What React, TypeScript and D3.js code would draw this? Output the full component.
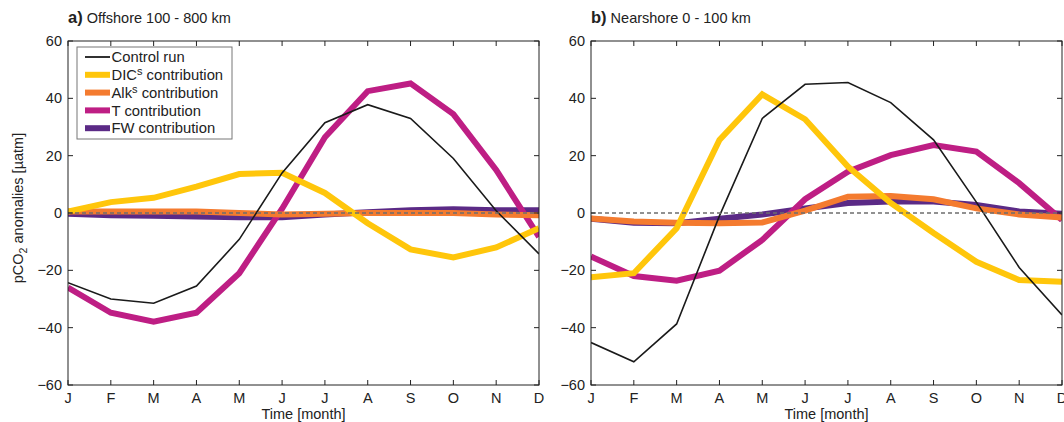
import React from "react";
import * as d3 from "d3";

const months = ["J", "F", "M", "A", "M", "J", "J", "A", "S", "O", "N", "D"];
const yTicks = [-60, -40, -20, 0, 20, 40, 60];

// Panel a) Offshore 100 - 800 km
const aControl = [-24.3, -30, -31.5, -25.5, -9.2, 14, 31.5, 37.8, 33, 19, 0.8, -14.3];
const aDIC = [0.5, 3.8, 5.3, 9.2, 13.6, 14, 7, -3.6, -12.7, -15.5, -12, -5.3];
const aAlk = [0.5, 0.5, 0.5, 0.5, 0, -0.5, -0.3, 0, 0, 0, -0.5, -0.8];
const aT = [-26, -34.8, -37.9, -34.8, -21, 1.5, 26.4, 42.5, 45.2, 34.5, 15, -8.3];
const aFW = [-0.3, -0.8, -1, -1.2, -1.5, -1.5, -0.5, 0.3, 1, 1.3, 1, 1];

// Panel b) Nearshore 0 - 100 km
const bControl = [-45.2, -51.9, -38.7, -1, 33, 44.9, 45.5, 38.5, 25.5, 3.8, -19, -35.6];
const bDIC = [-22.4, -21, -5.3, 25.5, 41.4, 32.7, 16.2, 3.5, -7, -17, -23.4, -24];
const bAlk = [-1.9, -3, -3.4, -3.6, -3.3, 0.8, 5.7, 5.9, 4.8, 1.6, -0.5, -1.6];
const bT = [-15.2, -22, -23.6, -20.1, -9.4, 4.8, 14.4, 20.2, 23.7, 21.4, 10.4, -2.4];
const bFW = [-2, -3.4, -3.6, -2, -0.5, 1.6, 3.5, 4, 4, 2.8, 0.5, -0.3];

const colors = {
  control: "#1a1a1a",
  dic: "#FFC60B",
  alk: "#F47B2F",
  t: "#BE1E84",
  fw: "#5B2A86",
};

const FONT = "'Liberation Sans', Arial, Helvetica, sans-serif";
const FS = 14.5;

type PanelProps = {
  left: number;
  label: string;
  title: string;
  control: number[];
  dic: number[];
  alk: number[];
  t: number[];
  fw: number[];
  legend?: boolean;
};

function Panel({ left, label, title, control, dic, alk, t, fw, legend }: PanelProps) {
  const width = 471;
  const top = 41;
  const bottom = 385;
  const x = d3.scaleLinear().domain([0, 11]).range([left, left + width]);
  const y = d3.scaleLinear().domain([-60, 60]).range([bottom, top]);
  const line = d3
    .line<number>()
    .x((_, i) => x(i))
    .y((d) => y(d));
  const tick = 5;
  const series = [
    { data: fw, color: colors.fw, w: 6 },
    { data: t, color: colors.t, w: 6 },
    { data: alk, color: colors.alk, w: 6 },
    { data: dic, color: colors.dic, w: 6 },
  ];
  const legendItems = [
    { name: "Control run", sup: "", color: colors.control, w: 1.8 },
    { name: "DIC", sup: "s", rest: " contribution", color: colors.dic, w: 6 },
    { name: "Alk", sup: "s", rest: " contribution", color: colors.alk, w: 6 },
    { name: "T contribution", sup: "", color: colors.t, w: 6 },
    { name: "FW contribution", sup: "", color: colors.fw, w: 6 },
  ];
  return (
    <g fontFamily={FONT}>
      <text x={left} y={22.5} fontSize={FS} fill="#222">
        <tspan fontWeight="bold" fontSize={16.5}>{label}</tspan>
        <tspan> {title}</tspan>
      </text>
      <defs>
        <clipPath id={`clip-${left}`}>
          <rect x={left} y={top} width={width} height={bottom - top} />
        </clipPath>
      </defs>
      <g clipPath={`url(#clip-${left})`}>
        {series.map((s, i) => (
          <path
            key={i}
            d={line(s.data) || ""}
            fill="none"
            stroke={s.color}
            strokeWidth={s.w}
            strokeLinejoin="miter"
          />
        ))}
        <path d={line(control) || ""} fill="none" stroke={colors.control} strokeWidth={1.6} />
        <line
          x1={left}
          x2={left + width}
          y1={y(0)}
          y2={y(0)}
          stroke="#6e6e6e"
          strokeWidth={1.6}
          strokeDasharray="4,3"
        />
      </g>
      <rect x={left} y={top} width={width} height={bottom - top} fill="none" stroke="#222" strokeWidth={1} />
      {months.map((m, i) => (
        <g key={i}>
          <line x1={x(i)} x2={x(i)} y1={bottom} y2={bottom - tick} stroke="#222" />
          <line x1={x(i)} x2={x(i)} y1={top} y2={top + tick} stroke="#222" />
          <text x={x(i)} y={402.5} fontSize={FS} textAnchor="middle" fill="#222">
            {m}
          </text>
        </g>
      ))}
      {yTicks.map((v) => (
        <g key={v}>
          <line x1={left} x2={left + tick} y1={y(v)} y2={y(v)} stroke="#222" />
          <line x1={left + width} x2={left + width - tick} y1={y(v)} y2={y(v)} stroke="#222" />
          <text x={left - 6} y={y(v) + 5} fontSize={FS} textAnchor="end" fill="#222">
            {v === 0 ? "0" : v < 0 ? "\u2212" + Math.abs(v) : String(v)}
          </text>
        </g>
      ))}
      <text x={left + width / 2} y={419} fontSize={FS} textAnchor="middle" fill="#222">
        Time [month]
      </text>
      {legend && (
        <g>
          <rect x={77} y={47} width={155} height={92} fill="white" stroke="#777" strokeWidth={1} />
          {legendItems.map((it, i) => {
            const ly = 57 + i * 17.8;
            return (
              <g key={i}>
                <line x1={85} x2={110} y1={ly} y2={ly} stroke={it.color} strokeWidth={it.w} />
                <text x={111.5} y={ly + 5.2} fontSize={14.8} fill="#222">
                  {it.name}
                  {it.sup && (
                    <tspan dy={-5} fontSize={11}>
                      {it.sup}
                    </tspan>
                  )}
                  {it.rest && <tspan dy={5}>{it.rest}</tspan>}
                </text>
              </g>
            );
          })}
        </g>
      )}
    </g>
  );
}

export default function App() {
  return (
    <svg
      width={1064}
      height={422}
      style={{ position: "absolute", left: 0, top: 0, background: "white" }}
    >
      <rect width={1064} height={422} fill="white" />
      <text
        transform="translate(22.5,208) rotate(-90)"
        textAnchor="middle"
        fontSize={FS}
        fontFamily={FONT}
        fill="#222"
      >
        pCO
        <tspan dy={4} fontSize={10.5}>2</tspan>
        <tspan dy={-4}> anomalies [µatm]</tspan>
      </text>
      <Panel
        left={68}
        label="a)"
        title="Offshore 100 - 800 km"
        control={aControl}
        dic={aDIC}
        alk={aAlk}
        t={aT}
        fw={aFW}
        legend
      />
      <Panel
        left={591}
        label="b)"
        title="Nearshore 0 - 100 km"
        control={bControl}
        dic={bDIC}
        alk={bAlk}
        t={bT}
        fw={bFW}
      />
    </svg>
  );
}
